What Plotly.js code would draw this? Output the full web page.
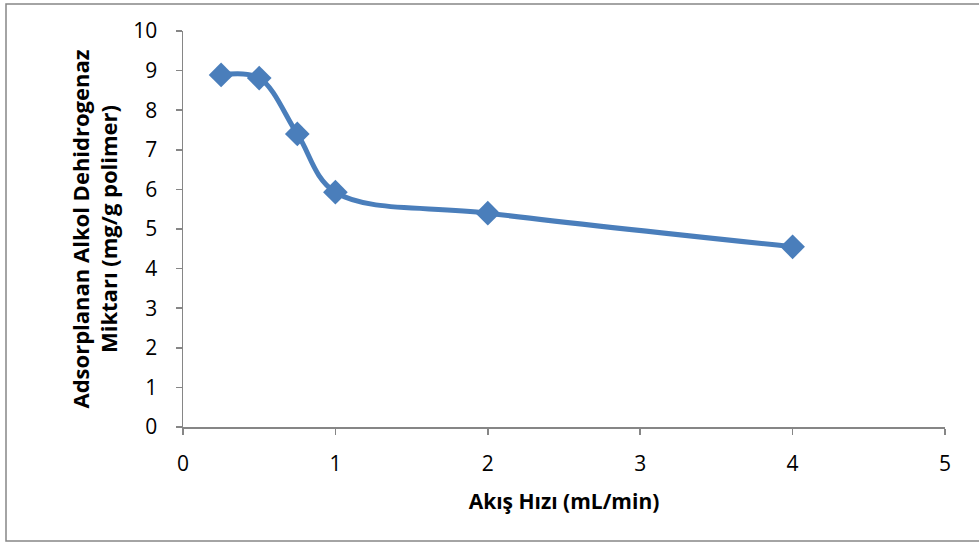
<!DOCTYPE html>
<html>
<head>
<meta charset="utf-8">
<script src="https://cdn.plot.ly/plotly-3.0.1.min.js"></script>
<style>
  html, body { margin: 0; padding: 0; background: #ffffff; }
  #chart { width: 979px; height: 543px; }
</style>
</head>
<body>
<div id="chart"></div>
<script>
// Flow rate (mL/min) and adsorbed alcohol dehydrogenase (mg/g polymer)
const flowRate = [0.25, 0.5, 0.75, 1, 2, 4];
const adsorbed = [8.89, 8.81, 7.40, 5.93, 5.40, 4.55];

const xTicks = [0, 1, 2, 3, 4, 5];
const yTicks = [0, 1, 2, 3, 4, 5, 6, 7, 8, 9, 10];

const xTitle = 'Akış Hızı (mL/min)';
const yTitle = 'Adsorplanan Alkol Dehidrogenaz<br>Miktarı (mg/g polimer)';

const blue = '#4a7ebb';
const grey = '#868686';
const fontFam = '"Open Sans", sans-serif';

const trace = {
  x: flowRate,
  y: adsorbed,
  type: 'scatter',
  mode: 'lines+markers',
  line: { color: blue, width: 5, shape: 'spline', smoothing: 1 },
  marker: { symbol: 'diamond', size: 19, color: blue },
  hoverinfo: 'skip'
};

const layout = {
  width: 979,
  height: 543,
  margin: { l: 183, r: 34, t: 31, b: 116 },
  paper_bgcolor: '#ffffff',
  plot_bgcolor: '#ffffff',
  showlegend: false,
  font: { family: fontFam, color: '#000000', size: 21 },
  xaxis: {
    range: [0, 5],
    tickvals: xTicks,
    ticktext: xTicks.map(String),
    showgrid: false,
    zeroline: false,
    showline: true,
    linecolor: grey,
    linewidth: 1.5,
    ticks: 'outside',
    ticklen: 6,
    tickwidth: 1.5,
    tickcolor: grey,
    ticklabelstandoff: 11,
    tickfont: { size: 21, family: fontFam },
    title: { text: '<b>' + xTitle + '</b>', font: { size: 21, family: fontFam }, standoff: 18 }
  },
  yaxis: {
    range: [0, 10],
    tickvals: yTicks,
    ticktext: yTicks.map(String),
    showgrid: false,
    zeroline: false,
    showline: true,
    linecolor: grey,
    linewidth: 1.5,
    ticks: 'outside',
    ticklen: 6,
    tickwidth: 1.5,
    tickcolor: grey,
    ticklabelstandoff: 14,
    tickfont: { size: 21, family: fontFam },
    title: { text: '<b>' + yTitle + '</b>', font: { size: 22, family: fontFam }, standoff: 9 }
  },
  shapes: [{
    type: 'rect',
    xref: 'paper', yref: 'paper',
    x0: (6 - 183) / 762, x1: (985 - 183) / 762,
    y0: (427 - 541) / 396, y1: (427 - 4) / 396,
    line: { color: grey, width: 1.5 },
    fillcolor: 'rgba(0,0,0,0)',
    layer: 'below'
  }]
};

Plotly.newPlot('chart', [trace], layout, { displayModeBar: false, staticPlot: true });
</script>
</body>
</html>
